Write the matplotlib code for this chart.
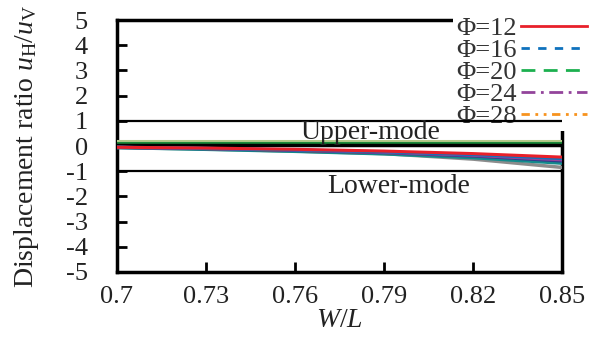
import matplotlib
matplotlib.use("Agg")
import matplotlib.pyplot as plt
from matplotlib.lines import Line2D

plt.rcParams['font.family'] = ['Liberation Serif', 'DejaVu Serif']
plt.rcParams['mathtext.fontset'] = 'custom'
plt.rcParams['mathtext.rm'] = 'Liberation Serif'
plt.rcParams['mathtext.it'] = 'Liberation Serif:italic'

# Data
wl = [0.70, 0.73, 0.76, 0.79, 0.82, 0.85]
upper_olive = [0.20, 0.20, 0.20, 0.20, 0.20, 0.20]
upper_green = [0.14, 0.14, 0.14, 0.14, 0.14, 0.14]
upper_black = [0.05, 0.05, 0.05, 0.05, 0.05, 0.05]
grey = [-0.06, -0.12, -0.20, -0.30, -0.52, -0.85]
teal = [-0.06, -0.13, -0.21, -0.31, -0.46, -0.68]
orange28 = [-0.05, -0.10, -0.17, -0.26, -0.38, -0.57]
navy = [-0.05, -0.10, -0.17, -0.26, -0.39, -0.59]
purple24 = [-0.05, -0.10, -0.16, -0.25, -0.37, -0.55]
blue16 = [-0.05, -0.09, -0.15, -0.23, -0.34, -0.50]
red12 = [-0.05, -0.08, -0.13, -0.20, -0.30, -0.44]

legend_labels = ['Φ=12', 'Φ=16', 'Φ=20', 'Φ=24', 'Φ=28']
legend_colors = ['#e8202a', '#0f72bd', '#1cb04f', '#93449b', '#f7931e']
legend_styles = ['-', (0, (3, 3)), (0, (5, 3)), (0, (5, 2, 1, 2)), (0, (3, 2, 1, 2, 1, 2))]

xticks = [0.7, 0.73, 0.76, 0.79, 0.82, 0.85]
xtick_labels = ['0.7', '0.73', '0.76', '0.79', '0.82', '0.85']
yticks = [5, 4, 3, 2, 1, 0, -1, -2, -3, -4, -5]

FS = 19

fig = plt.figure(figsize=(5.93, 3.40), dpi=100)
ax = fig.add_axes([0.197, 0.2, 0.751, 0.741])

lw = 2.2
ax.plot(wl, upper_olive, color='#b5c98a', lw=lw, zorder=3)
ax.plot(wl, upper_green, color='#1a8a3a', lw=lw, zorder=3)
ax.plot(wl, upper_black, color='black', lw=2.5, zorder=3)
ax.plot(wl, grey, color='#8c8c8c', lw=2.5, zorder=3)
ax.plot(wl, teal, color='#138b8b', lw=2.5, zorder=3)
ax.plot(wl, orange28, color=legend_colors[4], lw=lw, zorder=3)
ax.plot(wl, navy, color='#2d3a8c', lw=2.5, zorder=3)
ax.plot(wl, purple24, color=legend_colors[3], lw=lw, zorder=3)
ax.plot(wl, blue16, color=legend_colors[1], lw=lw, zorder=3)
ax.plot(wl, red12, color=legend_colors[0], lw=lw, zorder=3)

ax.plot([0.7, 0.85], [1, 1], color='black', lw=1.6, zorder=7)
ax.plot([0.7, 0.85], [-1, -1], color='black', lw=1.6, zorder=7)

ax.text(0.7855, 0.55, 'Upper-mode', ha='center', va='center', fontsize=20, color='#222222', zorder=8)
ax.text(0.795, -1.6, 'Lower-mode', ha='center', va='center', fontsize=20, color='#222222', zorder=8)

ax.set_xlim(0.7, 0.85)
ax.set_ylim(-5, 5)
ax.set_xticks(xticks)
ax.set_xticklabels(xtick_labels)
ax.set_yticks(yticks)
ax.set_yticklabels([str(v) for v in yticks])
ax.tick_params(axis='both', direction='in', length=7, width=2, labelsize=FS, top=False, right=False,
               labelcolor='#222222')
ax.tick_params(axis='x', pad=10)
ax.tick_params(axis='y', pad=21)
for s in ax.spines.values():
    s.set_linewidth(2.5)

ax.set_xlabel('$W/L$', fontsize=20, labelpad=0, color='#222222')
ax.set_ylabel('Displacement ratio $u_{\\mathrm{H}}/u_{\\mathrm{V}}$', fontsize=20, labelpad=18, color='#222222')

handles = [Line2D([], [], color=c, ls=s, lw=2) for c, s in zip(legend_colors, legend_styles)]
leg = ax.legend(handles, legend_labels, loc='upper right', bbox_to_anchor=(1.061, 1.025),
                markerfirst=False, frameon=True, fontsize=FS, handlelength=2.5,
                handletextpad=0.15, labelspacing=-0.05, borderpad=0.1, borderaxespad=0.0)
leg.get_frame().set_facecolor('white')
leg.get_frame().set_edgecolor('none')
leg.get_frame().set_alpha(1)
leg.set_zorder(6)
for t in leg.get_texts():
    t.set_color('#333333')

fig.savefig('out.png', dpi=100)
